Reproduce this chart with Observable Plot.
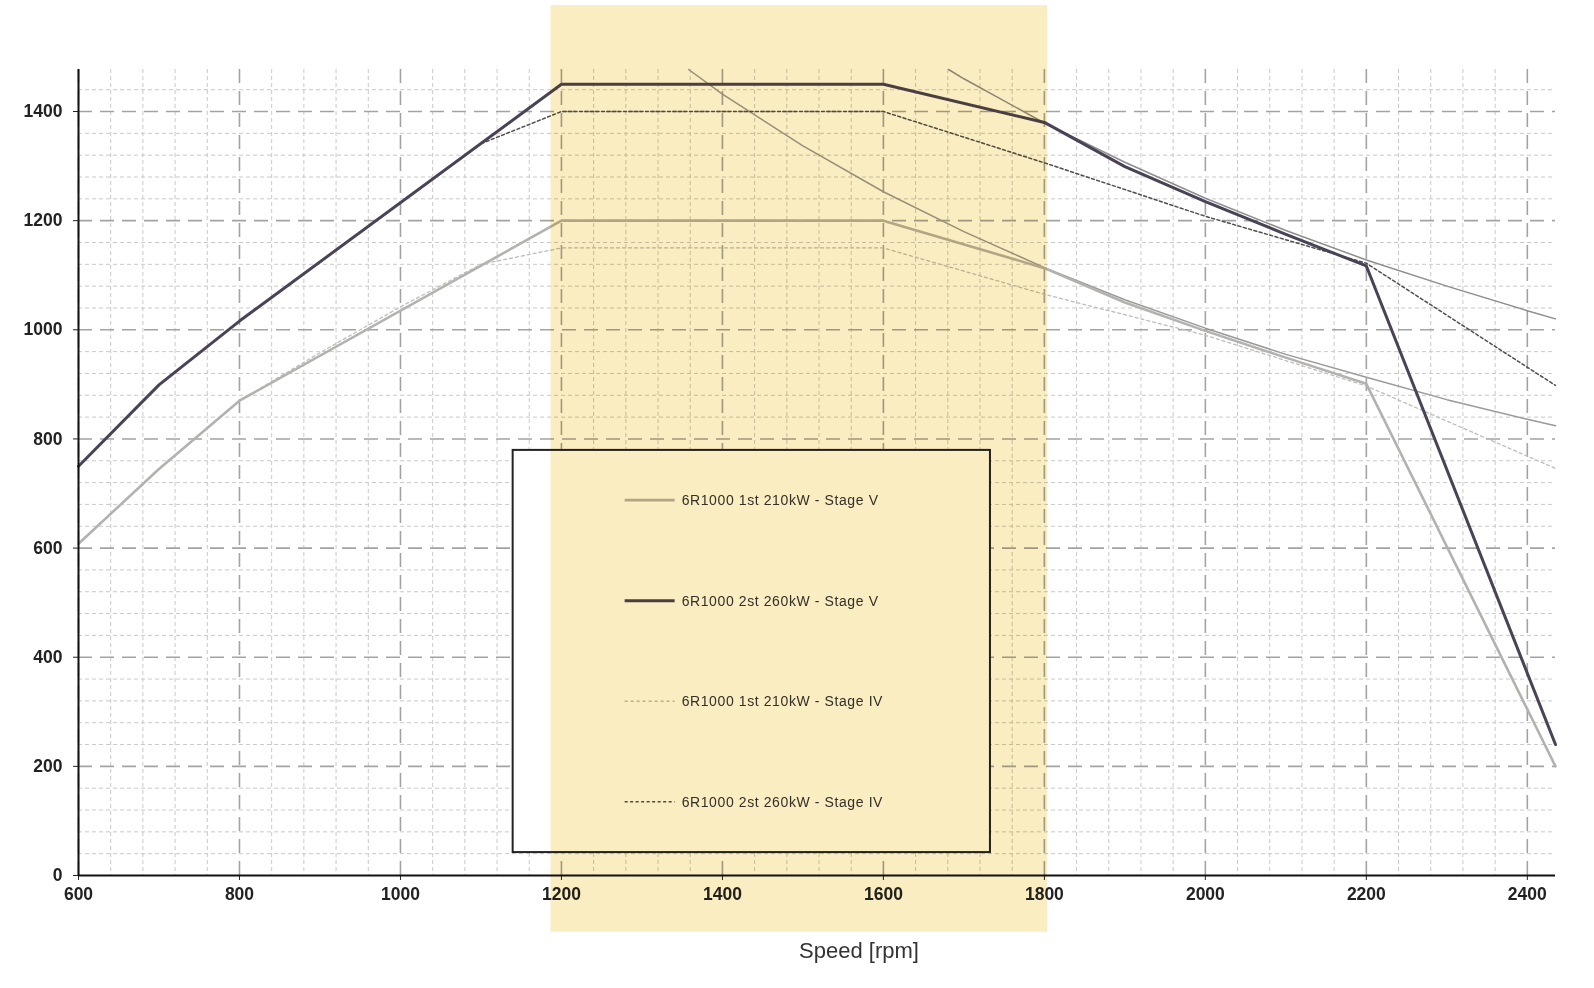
<!DOCTYPE html>
<html>
<head>
<meta charset="utf-8">
<script src="https://cdn.jsdelivr.net/npm/d3@7"></script>
<script src="https://cdn.jsdelivr.net/npm/@observablehq/plot@0.6"></script>
<style>
  html, body { margin: 0; padding: 0; background: #ffffff; overflow: hidden; }
  #chart { width: 1594px; height: 988px; }
  #chart svg { max-width: none !important; }
</style>
</head>
<body>
<div id="chart"></div>
<script>
// ---- data ----
const xTicks = [600, 800, 1000, 1200, 1400, 1600, 1800, 2000, 2200, 2400];
const yTicks = [0, 200, 400, 600, 800, 1000, 1200, 1400];
const xMinorStep = 40;
const yMinorStep = 40;

const seriesNames = [
  "6R1000 1st 210kW - Stage V",
  "6R1000 2st 260kW - Stage V",
  "6R1000 1st 210kW - Stage IV",
  "6R1000 2st 260kW - Stage IV"
];

const rpm1stV    = [600, 700, 800, 1200, 1600, 1800, 1900, 2000, 2100, 2200, 2435];
const torque1stV = [608, 745, 870, 1200, 1200, 1113, 1050, 998, 949, 901, 200];

const rpm2stV    = [600, 700, 800, 1200, 1600, 1800, 1900, 2000, 2100, 2200, 2435];
const torque2stV = [750, 899, 1016, 1450, 1450, 1380, 1299, 1235, 1175, 1117, 240];

const rpm1stIV    = [600, 700, 800, 900, 1000, 1100, 1200, 1600, 1800, 2000, 2200, 2435];
const torque1stIV = [608, 745, 870, 958, 1042, 1120, 1150, 1150, 1065, 990, 897, 746];

const rpm2stIV    = [600, 700, 800, 1100, 1200, 1600, 1800, 2000, 2200, 2435];
const torque2stIV = [750, 899, 1016, 1341, 1400, 1400, 1306, 1208, 1122, 898];

// thin constant-power reference curves
const rpmP210    = [1358, 1400, 1500, 1600, 1700, 1800, 1900, 2000, 2100, 2200, 2300, 2400, 2435];
const torqueP210 = [1477, 1432, 1337, 1253, 1180, 1114, 1055, 1003, 955, 913, 872, 836, 824];

const rpmP260    = [1681, 1700, 1800, 1900, 2000, 2100, 2200, 2300, 2400, 2435];
const torqueP260 = [1477, 1460, 1379, 1307, 1241, 1182, 1128, 1080, 1035, 1020];

// highlighted speed band
const bandRpm = [1187, 1804];

// ---- styles ----
const styles = [
  {stroke: "#b4b2ae", strokeWidth: 2.6, dash: null},
  {stroke: "#4a4356", strokeWidth: 3, dash: null},
  {stroke: "#bdbdbd", strokeWidth: 1.3, dash: "3,3"},
  {stroke: "#4f4f4f", strokeWidth: 1.5, dash: "3,2.5"}
];

const toRows = (xs, ys) => xs.map((x, i) => ({x, y: ys[i]}));
const series = [
  toRows(rpm1stV, torque1stV),
  toRows(rpm2stV, torque2stV),
  toRows(rpm1stIV, torque1stIV),
  toRows(rpm2stIV, torque2stIV)
];

const xDomain = [600, 2435];
const yDomain = [0, 1477];
const xMinor = d3.range(xDomain[0], xDomain[1] + 1, xMinorStep).filter(v => !xTicks.includes(v));
const yMinor = d3.range(yDomain[0], yDomain[1] + 1, yMinorStep).filter(v => !yTicks.includes(v));

const plot = Plot.plot({
  width: 1594,
  height: 988,
  marginLeft: 78,
  marginRight: 39,
  marginTop: 69,
  marginBottom: 113,
  style: {fontFamily: "'Liberation Sans', Arial, sans-serif", background: "#ffffff"},
  x: {domain: xDomain, label: null},
  y: {domain: yDomain, label: null},
  marks: [
    // minor grid
    Plot.ruleX(xMinor, {stroke: "#c9c9c9", strokeWidth: 1, strokeDasharray: "4,3"}),
    Plot.ruleY(yMinor, {stroke: "#c9c9c9", strokeWidth: 1, strokeDasharray: "4,3"}),
    // major grid
    Plot.ruleX(xTicks, {stroke: "#a3a3a3", strokeWidth: 1.6, strokeDasharray: "14,8"}),
    Plot.ruleY(yTicks.filter(v => v > 0), {stroke: "#a3a3a3", strokeWidth: 1.6, strokeDasharray: "14,8"}),
    // power curves
    Plot.line(toRows(rpmP210, torqueP210), {x: "x", y: "y", stroke: "#9a9a9a", strokeWidth: 1.5}),
    Plot.line(toRows(rpmP260, torqueP260), {x: "x", y: "y", stroke: "#8e8e8e", strokeWidth: 1.5}),
    // series (Stage IV beneath Stage V)
    ...[2, 3, 0, 1].map(i => Plot.line(series[i], {
      x: "x", y: "y",
      stroke: styles[i].stroke,
      strokeWidth: styles[i].strokeWidth,
      strokeDasharray: styles[i].dash,
      strokeLinejoin: "round"
    })),
    // axes
    Plot.axisX({ticks: xTicks, tickSize: 5, tickPadding: 7, fontSize: 17.5, fontWeight: "bold", fill: "#222", stroke: "#222", tickFormat: d => String(d), label: null}),
    Plot.axisY({ticks: yTicks, tickSize: 5, tickPadding: 11, fontSize: 17.5, fontWeight: "bold", fill: "#222", stroke: "#222", tickFormat: d => String(d), label: null}),
    Plot.ruleX([xDomain[0]], {stroke: "#111", strokeWidth: 2}),
    Plot.ruleY([0], {stroke: "#111", strokeWidth: 2}),
    Plot.text(["Speed [rpm]"], {frameAnchor: "bottom", dy: 82, dx: 42, fontSize: 22, fill: "#333", fontFamily: "'Liberation Sans', Arial, sans-serif"}),
    // highlight band (overlay, multiplied)
    Plot.rect([bandRpm], {x1: d => d[0], x2: d => d[1], y1: -104, y2: 1594, fill: "#fbedc2", mixBlendMode: "multiply"})
  ]
});

document.getElementById("chart").appendChild(plot);

// ---- legend, inserted beneath the band ----
const svg = d3.select(plot);
const xs = plot.scale("x"), ys = plot.scale("y");
const lx0 = xs.apply(1140), lx1 = xs.apply(1733);
const ly0 = ys.apply(779), ly1 = ys.apply(42);
const bandNode = plot.querySelector('g[aria-label="rect"]');
const legend = svg.insert("g", () => bandNode).attr("class", "legend");
legend.append("rect")
  .attr("x", lx0).attr("y", ly0).attr("width", lx1 - lx0).attr("height", ly1 - ly0)
  .attr("fill", "#ffffff").attr("stroke", "#222").attr("stroke-width", 2);
const rowGap = (ly1 - ly0) / 4;
seriesNames.forEach((name, i) => {
  const yy = ly0 + rowGap * (i + 0.5);
  const sx = lx0 + 112;
  legend.append("line")
    .attr("x1", sx).attr("x2", sx + 50).attr("y1", yy).attr("y2", yy)
    .attr("stroke", styles[i].stroke)
    .attr("stroke-width", styles[i].strokeWidth)
    .attr("stroke-dasharray", styles[i].dash);
  legend.append("text")
    .attr("x", sx + 57).attr("y", yy).attr("dy", "0.35em")
    .attr("text-anchor", "start")
    .attr("font-size", 14).attr("letter-spacing", 0.6).attr("fill", "#333")
    .attr("font-family", "'Liberation Sans', Arial, sans-serif")
    .text(name);
});
</script>
</body>
</html>
